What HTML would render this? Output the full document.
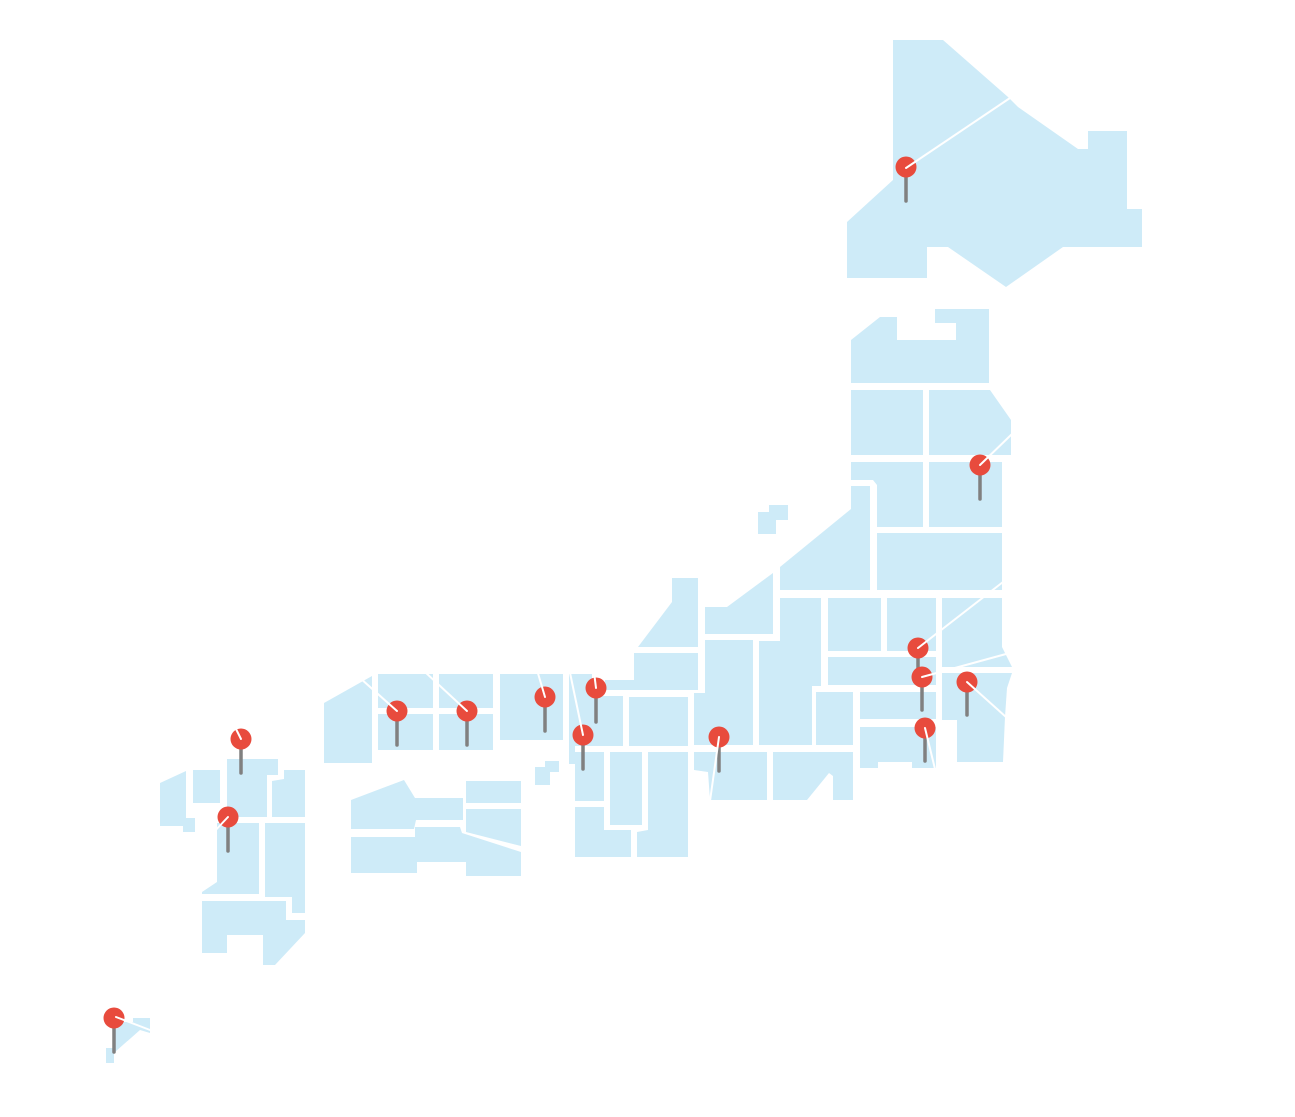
<!DOCTYPE html>
<html>
<head>
<meta charset="utf-8">
<style>
  html,body{margin:0;padding:0;background:#ffffff;}
  body{width:1295px;height:1117px;overflow:hidden;font-family:"Liberation Sans",sans-serif;}
  svg{display:block;}
</style>
</head>
<body>
<svg width="1295" height="1117" viewBox="0 0 1295 1117" xmlns="http://www.w3.org/2000/svg">
  <rect x="0" y="0" width="1295" height="1117" fill="#ffffff"/>
  <g fill="#ceebf8">
    <!-- Hokkaido -->
    <polygon points="893,40 943,40 1008,97 1018,107 1078,149 1088,149 1088,131 1127,131 1127,209 1142,209 1142,247 1063,247 1006,287 948,247 927,247 927,278 847,278 847,222 893,180"/>
    <!-- Tohoku -->
    <polygon points="851,340 880,317 897,317 897,340 956,340 956,323 935,323 935,309 989,309 989,383 851,383"/>
    <rect x="851" y="390" width="72" height="65"/>
    <polygon points="929,390 990,390 1011,420 1011,455 929,455"/>
    <polygon points="851,462 923,462 923,527 877,527 877,485 873,480 851,480"/>
    <rect x="929" y="462" width="73" height="65"/>
    <rect x="877" y="533" width="125" height="57"/>
    <!-- Niigata / Sado -->
    <polygon points="851,486 870,486 870,590 780,590 780,567 851,509"/>
    <polygon points="758,512 769,512 769,505 788,505 788,520 776,520 776,534 758,534"/>
    <!-- Chubu -->
    <polygon points="672,578 698,578 698,647 638,647 672,602"/>
    <polygon points="705,607 727,607 773,573 773,634 705,634"/>
    <polygon points="634,653 698,653 698,690 605,690 605,680 634,680"/>
    <polygon points="780,598 821,598 821,686 812,686 812,745 759,745 759,641 780,641"/>
    <polygon points="705,640 753,640 753,745 694,745 694,693 705,693"/>
    <polygon points="694,752 767,752 767,800 710,800 708,772 694,770"/>
    <polygon points="773,752 853,752 853,800 833,800 833,776 829,773 807,800 773,800"/>
    <rect x="816" y="692" width="37" height="53"/>
    <!-- Kanto -->
    <rect x="828" y="598" width="53" height="53"/>
    <rect x="887" y="598" width="49" height="53"/>
    <polygon points="942,598 1002,598 1002,647 1012,667 942,667"/>
    <rect x="828" y="657" width="108" height="28"/>
    <rect x="860" y="692" width="76" height="27"/>
    <polygon points="860,727 936,727 936,768 912,768 912,762 878,762 878,768 860,768"/>
    <polygon points="942,673 1012,673 1007,688 1005,717 1003,762 957,762 957,720 942,720"/>
    <!-- Kansai -->
    <rect x="629" y="697" width="59" height="49"/>
    <polygon points="569,674 592,674 592,696 623,696 623,746 575,746 575,764 569,764"/>
    <rect x="575" y="752" width="29" height="49"/>
    <rect x="610" y="752" width="32" height="73"/>
    <polygon points="648,752 688,752 688,857 637,857 637,832 648,830"/>
    <polygon points="575,807 604,807 604,830 631,830 631,857 575,857"/>
    <!-- Chugoku -->
    <rect x="500" y="674" width="63" height="66"/>
    <rect x="439" y="674" width="54" height="34"/>
    <rect x="439" y="714" width="54" height="36"/>
    <rect x="378" y="674" width="55" height="34"/>
    <rect x="378" y="714" width="55" height="36"/>
    <polygon points="324,703 372,676 372,763 324,763"/>
    <!-- Awaji -->
    <polygon points="535,767 545,767 545,761 559,761 559,772 550,772 550,785 535,785"/>
    <!-- Shikoku -->
    <polygon points="351,800 404,780 415,798 463,798 463,820 416,820 414,829 351,829"/>
    <rect x="466" y="781" width="55" height="22"/>
    <polygon points="466,809 521,809 521,846 466,832"/>
    <polygon points="351,837 415,837 415,827 460,827 462,833 521,852 521,876 466,876 466,862 417,862 417,873 351,873"/>
    <!-- Kyushu -->
    <polygon points="160,783 186,771 186,818 195,818 195,832 183,832 183,826 160,826"/>
    <rect x="193" y="770" width="27" height="33"/>
    <polygon points="227,759 278,759 278,775 267,775 267,817 227,817"/>
    <polygon points="284,770 305,770 305,817 272,817 272,781 284,779"/>
    <polygon points="217,823 259,823 259,894 202,894 202,892 217,882"/>
    <polygon points="265,823 305,823 305,913 292,913 292,897 265,897"/>
    <polygon points="202,901 286,901 286,920 305,920 305,933 275,965 263,965 263,935 227,935 227,953 202,953"/>
    <!-- Okinawa -->
    <polygon points="123,1022 133,1022 133,1018 150,1018 150,1033 140,1030 115,1052 115,1030"/>
    <rect x="106" y="1048" width="8" height="15"/>
  </g>

  <!-- pin stems -->
  <g stroke="#808080" stroke-width="3.5" stroke-linecap="round" fill="none">
    <line x1="906" y1="167" x2="906" y2="201"/>
    <line x1="980" y1="465" x2="980" y2="499"/>
    <line x1="918" y1="648" x2="918" y2="680"/>
    <line x1="922" y1="677" x2="922" y2="710"/>
    <line x1="967" y1="682" x2="967" y2="715"/>
    <line x1="925" y1="728" x2="925" y2="761"/>
    <line x1="719" y1="737" x2="719" y2="771"/>
    <line x1="596" y1="688" x2="596" y2="722"/>
    <line x1="583" y1="735" x2="583" y2="769"/>
    <line x1="545" y1="697" x2="545" y2="731"/>
    <line x1="467" y1="711" x2="467" y2="745"/>
    <line x1="397" y1="711" x2="397" y2="745"/>
    <line x1="241" y1="739" x2="241" y2="773"/>
    <line x1="228" y1="817" x2="228" y2="851"/>
    <line x1="114" y1="1018" x2="114" y2="1052"/>
  </g>

  <!-- pin heads -->
  <g fill="#e84b3d">
    <circle cx="906" cy="167" r="10.5"/>
    <circle cx="980" cy="465" r="10.5"/>
    <circle cx="918" cy="648" r="10.5"/>
    <circle cx="922" cy="677" r="10.5"/>
    <circle cx="967" cy="682" r="10.5"/>
    <circle cx="925" cy="728" r="10.5"/>
    <circle cx="719" cy="737" r="10.5"/>
    <circle cx="596" cy="688" r="10.5"/>
    <circle cx="583" cy="735" r="10.5"/>
    <circle cx="545" cy="697" r="10.5"/>
    <circle cx="467" cy="711" r="10.5"/>
    <circle cx="397" cy="711" r="10.5"/>
    <circle cx="241" cy="739" r="10.5"/>
    <circle cx="228" cy="817" r="10.5"/>
    <circle cx="114" cy="1018" r="10.5"/>
  </g>

  <!-- white leader lines -->
  <g stroke="#ffffff" stroke-width="2" stroke-linecap="round" fill="none">
    <line x1="906" y1="168" x2="1010" y2="98"/>
    <line x1="980" y1="465" x2="1012" y2="434"/>
    <line x1="918" y1="648" x2="1003" y2="582"/>
    <line x1="922" y1="677" x2="1006" y2="654"/>
    <line x1="967" y1="682" x2="1006" y2="717"/>
    <line x1="925" y1="728" x2="935" y2="769"/>
    <line x1="719" y1="737" x2="710" y2="801"/>
    <line x1="596" y1="688" x2="594" y2="672"/>
    <line x1="583" y1="735" x2="569" y2="668"/>
    <line x1="545" y1="697" x2="537" y2="670"/>
    <line x1="467" y1="711" x2="425" y2="672"/>
    <line x1="397" y1="711" x2="360" y2="678"/>
    <line x1="241" y1="739" x2="236" y2="729"/>
    <line x1="228" y1="817" x2="212" y2="834"/>
    <line x1="116" y1="1017" x2="150" y2="1030"/>
  </g>
</svg>
</body>
</html>
